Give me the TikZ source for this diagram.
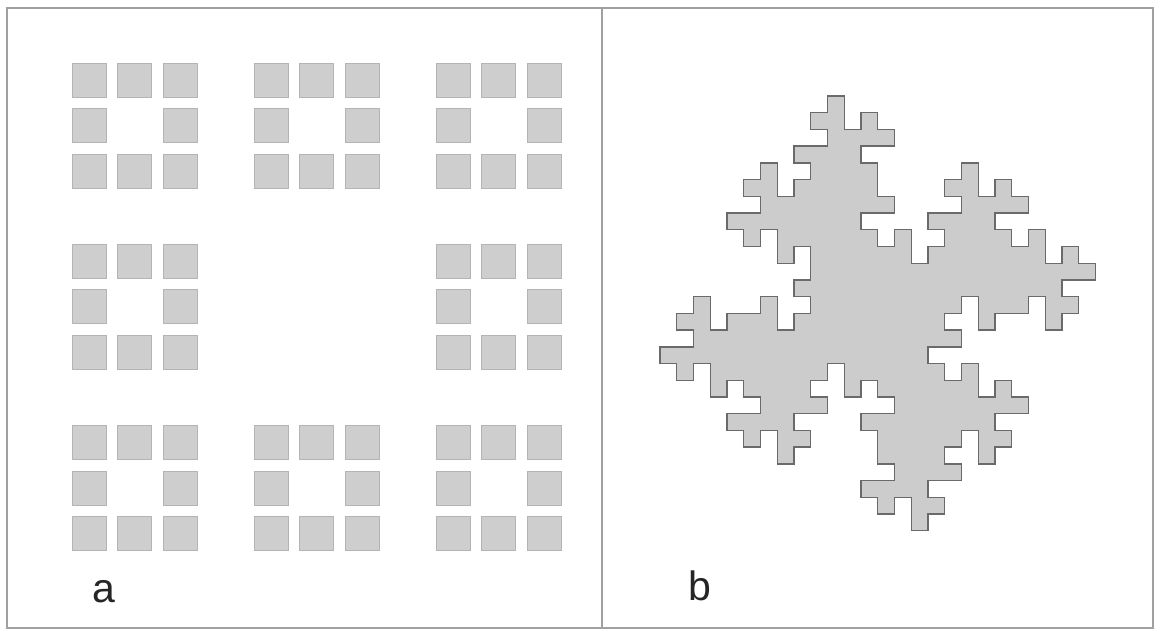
\documentclass[tikz,border=0pt]{standalone}
\usepackage{fontspec}
\setmainfont{Liberation Sans}
\usetikzlibrary{positioning}

\definecolor{sqfill}{HTML}{CECECE}
\definecolor{sqline}{HTML}{B4B4B4}
\definecolor{fracfill}{HTML}{CCCCCC}
\definecolor{fracline}{HTML}{6A6A6A}
\definecolor{frameline}{HTML}{A0A0A0}

\begin{document}
\begin{tikzpicture}[x=1pt,y=-1pt,
  sq/.style={draw=sqline, fill=sqfill, line width=1pt, minimum size=34pt, inner sep=0pt, outer sep=0pt},
  lbl/.style={font=\fontsize{41}{41}\selectfont, inner sep=0pt, text=black!85},
  frame/.style={draw=frameline, line width=1.2pt},
  fractal/.style={draw=fracline, fill=fracfill, line width=1.4pt}]
\useasboundingbox[fill=white] (0,0) rectangle (1160,630);
\draw[frame] (7,8) rectangle (1153,628);
\draw[frame] (602,8) -- (602,628);
% a: carpet
\node[sq] (s0-0) at (89,80) {};
\node[sq] (s0-1) at (134.5,80) {};
\node[sq] (s0-2) at (180,80) {};
\node[sq] (s0-4) at (271,80) {};
\node[sq] (s0-5) at (316.5,80) {};
\node[sq] (s0-6) at (362,80) {};
\node[sq] (s0-8) at (453,80) {};
\node[sq] (s0-9) at (498.5,80) {};
\node[sq] (s0-10) at (544,80) {};
\node[sq] (s1-0) at (89,125) {};
\node[sq] (s1-2) at (180,125) {};
\node[sq] (s1-4) at (271,125) {};
\node[sq] (s1-6) at (362,125) {};
\node[sq] (s1-8) at (453,125) {};
\node[sq] (s1-10) at (544,125) {};
\node[sq] (s2-0) at (89,171) {};
\node[sq] (s2-1) at (134.5,171) {};
\node[sq] (s2-2) at (180,171) {};
\node[sq] (s2-4) at (271,171) {};
\node[sq] (s2-5) at (316.5,171) {};
\node[sq] (s2-6) at (362,171) {};
\node[sq] (s2-8) at (453,171) {};
\node[sq] (s2-9) at (498.5,171) {};
\node[sq] (s2-10) at (544,171) {};
\node[sq] (s4-0) at (89,261) {};
\node[sq] (s4-1) at (134.5,261) {};
\node[sq] (s4-2) at (180,261) {};
\node[sq] (s4-8) at (453,261) {};
\node[sq] (s4-9) at (498.5,261) {};
\node[sq] (s4-10) at (544,261) {};
\node[sq] (s5-0) at (89,306.5) {};
\node[sq] (s5-2) at (180,306.5) {};
\node[sq] (s5-8) at (453,306.5) {};
\node[sq] (s5-10) at (544,306.5) {};
\node[sq] (s6-0) at (89,352) {};
\node[sq] (s6-1) at (134.5,352) {};
\node[sq] (s6-2) at (180,352) {};
\node[sq] (s6-8) at (453,352) {};
\node[sq] (s6-9) at (498.5,352) {};
\node[sq] (s6-10) at (544,352) {};
\node[sq] (s8-0) at (89,442) {};
\node[sq] (s8-1) at (134.5,442) {};
\node[sq] (s8-2) at (180,442) {};
\node[sq] (s8-4) at (271,442) {};
\node[sq] (s8-5) at (316.5,442) {};
\node[sq] (s8-6) at (362,442) {};
\node[sq] (s8-8) at (453,442) {};
\node[sq] (s8-9) at (498.5,442) {};
\node[sq] (s8-10) at (544,442) {};
\node[sq] (s9-0) at (89,488) {};
\node[sq] (s9-2) at (180,488) {};
\node[sq] (s9-4) at (271,488) {};
\node[sq] (s9-6) at (362,488) {};
\node[sq] (s9-8) at (453,488) {};
\node[sq] (s9-10) at (544,488) {};
\node[sq] (s10-0) at (89,533) {};
\node[sq] (s10-1) at (134.5,533) {};
\node[sq] (s10-2) at (180,533) {};
\node[sq] (s10-4) at (271,533) {};
\node[sq] (s10-5) at (316.5,533) {};
\node[sq] (s10-6) at (362,533) {};
\node[sq] (s10-8) at (453,533) {};
\node[sq] (s10-9) at (498.5,533) {};
\node[sq] (s10-10) at (544,533) {};
% b: cross fractal on a 26x26 grid
\begin{scope}[shift={(660pt,-96pt)},x=16.75pt,y=-16.72pt]
\draw[fractal] (11,0) -- (10,0) -- (10,1) -- (9,1) -- (9,2) -- (10,2) -- (10,3) -- (8,3) -- (8,4) -- (9,4) -- (9,5) -- (8,5) -- (8,6) -- (7,6) -- (7,4) -- (6,4) -- (6,5) -- (5,5) -- (5,6) -- (6,6) -- (6,7) -- (4,7) -- (4,8) -- (5,8) -- (5,9) -- (6,9) -- (6,8) -- (7,8) -- (7,10) -- (8,10) -- (8,9) -- (9,9) -- (9,11) -- (8,11) -- (8,12) -- (9,12) -- (9,13) -- (8,13) -- (8,14) -- (7,14) -- (7,12) -- (6,12) -- (6,13) -- (4,13) -- (4,14) -- (3,14) -- (3,12) -- (2,12) -- (2,13) -- (1,13) -- (1,14) -- (2,14) -- (2,15) -- (0,15)
  -- (0,16) -- (1,16) -- (1,17) -- (2,17) -- (2,16) -- (3,16) -- (3,18) -- (4,18) -- (4,17) -- (5,17) -- (5,18) -- (6,18) -- (6,19) -- (4,19) -- (4,20) -- (5,20) -- (5,21) -- (6,21) -- (6,20) -- (7,20) -- (7,22) -- (8,22) -- (8,21) -- (9,21) -- (9,20) -- (8,20) -- (8,19) -- (10,19) -- (10,18) -- (9,18) -- (9,17) -- (10,17) -- (10,16) -- (11,16) -- (11,18) -- (12,18) -- (12,17) -- (13,17) -- (13,18) -- (14,18) -- (14,19) -- (12,19) -- (12,20) -- (13,20) -- (13,22) -- (14,22) -- (14,23) -- (12,23) -- (12,24) -- (13,24) -- (13,25) -- (14,25) -- (14,24) -- (15,24) -- (15,26)
  -- (16,26) -- (16,25) -- (17,25) -- (17,24) -- (16,24) -- (16,23) -- (18,23) -- (18,22) -- (17,22) -- (17,21) -- (18,21) -- (18,20) -- (19,20) -- (19,22) -- (20,22) -- (20,21) -- (21,21) -- (21,20) -- (20,20) -- (20,19) -- (22,19) -- (22,18) -- (21,18) -- (21,17) -- (20,17) -- (20,18) -- (19,18) -- (19,16) -- (18,16) -- (18,17) -- (17,17) -- (17,16) -- (16,16) -- (16,15) -- (18,15) -- (18,14) -- (17,14) -- (17,13) -- (18,13) -- (18,12) -- (19,12) -- (19,14) -- (20,14) -- (20,13) -- (22,13) -- (22,12) -- (23,12) -- (23,14) -- (24,14) -- (24,13) -- (25,13) -- (25,12) -- (24,12) -- (24,11) -- (26,11)
  -- (26,10) -- (25,10) -- (25,9) -- (24,9) -- (24,10) -- (23,10) -- (23,8) -- (22,8) -- (22,9) -- (21,9) -- (21,8) -- (20,8) -- (20,7) -- (22,7) -- (22,6) -- (21,6) -- (21,5) -- (20,5) -- (20,6) -- (19,6) -- (19,4) -- (18,4) -- (18,5) -- (17,5) -- (17,6) -- (18,6) -- (18,7) -- (16,7) -- (16,8) -- (17,8) -- (17,9) -- (16,9) -- (16,10) -- (15,10) -- (15,8) -- (14,8) -- (14,9) -- (13,9) -- (13,8) -- (12,8) -- (12,7) -- (14,7) -- (14,6) -- (13,6) -- (13,4) -- (12,4) -- (12,3) -- (14,3) -- (14,2) -- (13,2) -- (13,1) -- (12,1) -- (12,2) -- (11,2) -- cycle;
\end{scope}
\node[lbl, anchor=base] (la) at (103.5,602) {a};
\node[lbl, anchor=base] (lb) at (699.5,600) {b};
\end{tikzpicture}
\end{document}
